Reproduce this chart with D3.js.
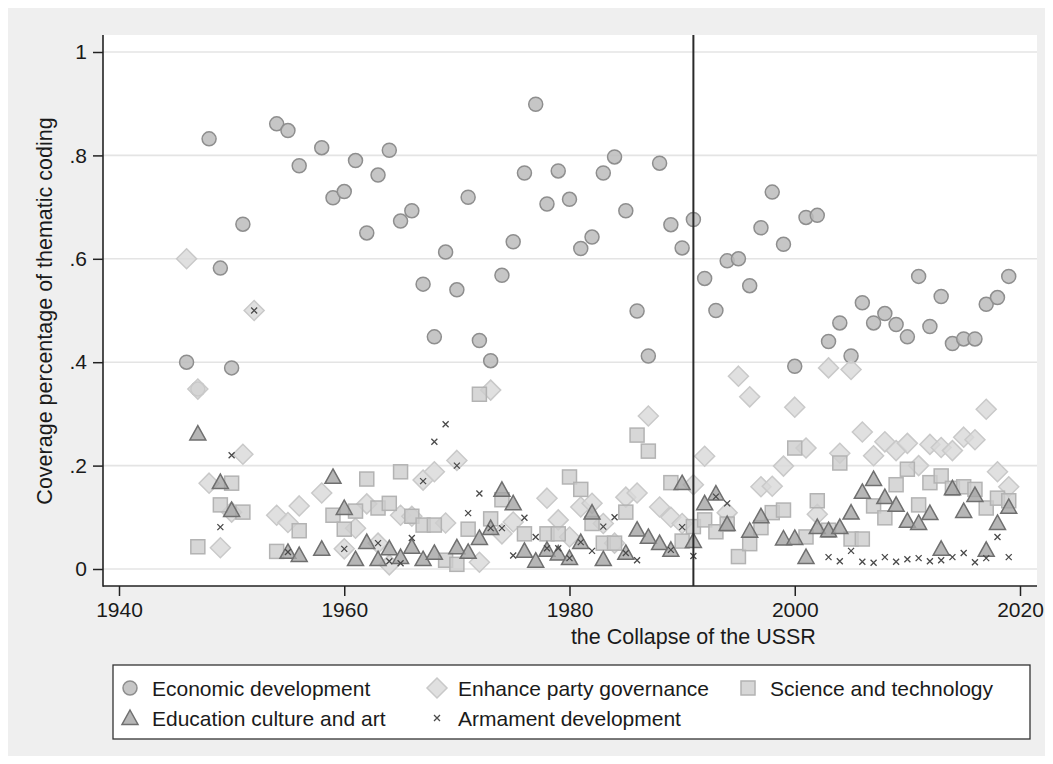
<!DOCTYPE html>
<html>
<head>
<meta charset="utf-8">
<script src="https://cdn.jsdelivr.net/npm/d3@7"></script>
<style>
  body { margin: 0; background: #fff; }
  text { font-family: "Liberation Sans", Arial, sans-serif; fill: #1a1a1a; }
</style>
</head>
<body>
<div id="chart"></div>
<script>
var years = [
  1946,1947,1948,1949,1950,1951,1952,1953,1954,1955,
  1956,1957,1958,1959,1960,1961,1962,1963,1964,1965,
  1966,1967,1968,1969,1970,1971,1972,1973,1974,1975,
  1976,1977,1978,1979,1980,1981,1982,1983,1984,1985,
  1986,1987,1988,1989,1990,1991,1992,1993,1994,1995,
  1996,1997,1998,1999,2000,2001,2002,2003,2004,2005,
  2006,2007,2008,2009,2010,2011,2012,2013,2014,2015,
  2016,2017,2018,2019];

var economic = [
  0.400,0.348,0.832,0.582,0.389,0.667,null,null,0.861,0.848,
  0.780,null,0.815,0.718,0.730,0.790,0.650,0.762,0.810,0.673,
  0.693,0.551,0.449,0.613,0.540,0.719,0.442,0.403,0.568,0.633,
  0.766,0.899,0.706,0.770,0.715,0.620,0.642,0.766,0.797,0.693,
  0.499,0.412,0.785,0.666,0.621,0.676,0.562,0.500,0.596,0.600,
  0.548,0.660,0.729,0.628,0.392,0.680,0.684,0.440,0.476,0.412,
  0.515,0.476,0.494,0.473,0.449,0.566,0.469,0.527,0.436,0.445,
  0.445,0.512,0.525,0.566];

var party = [
  0.600,0.348,0.166,0.041,0.110,0.222,0.500,null,0.104,0.090,
  0.122,null,0.147,null,0.039,0.079,0.126,0.050,0.008,0.104,
  0.102,0.172,0.188,0.089,0.210,null,0.013,0.346,0.068,0.091,
  null,null,0.137,0.095,0.062,0.120,0.127,0.088,0.050,0.139,
  0.147,0.296,0.120,0.100,0.088,0.163,0.218,null,0.109,0.373,
  0.333,0.159,0.160,0.199,0.313,0.234,0.106,0.389,0.224,0.386,
  0.265,0.219,0.246,0.229,0.243,0.200,0.241,0.235,0.229,0.255,
  0.250,0.309,0.188,0.159];

var science = [
  null,0.043,null,0.124,0.166,0.110,null,null,0.034,null,
  0.074,null,null,0.104,0.077,0.112,0.174,0.118,0.127,0.188,
  0.102,0.085,0.085,0.017,0.009,0.077,0.338,0.097,0.134,null,
  0.068,null,0.068,0.068,0.178,0.154,0.088,0.050,0.050,0.110,
  0.259,0.228,null,0.167,0.054,0.082,0.095,0.072,0.087,0.024,
  0.049,0.080,0.109,0.114,0.234,0.062,0.132,0.075,0.205,0.058,
  0.058,0.122,0.099,0.163,0.193,0.124,0.167,0.180,0.156,0.159,
  0.154,0.118,0.137,0.132];

var education = [
  null,0.262,null,0.168,0.114,null,null,null,null,0.033,
  0.027,null,0.039,0.178,0.118,0.019,0.052,0.019,0.040,0.023,
  0.043,0.019,0.031,null,0.042,0.033,0.060,0.079,0.153,0.127,
  0.035,0.016,0.037,0.030,0.021,0.052,0.109,0.019,null,0.031,
  0.076,0.062,0.050,0.037,0.166,0.054,0.127,0.146,0.087,null,
  0.074,0.102,null,0.059,0.060,0.023,0.081,0.075,0.081,0.109,
  0.149,0.174,0.139,0.124,0.093,0.089,0.108,0.039,0.156,0.112,
  0.143,0.037,0.089,0.120];

var armament = [
  null,null,null,0.081,0.220,null,0.500,null,null,0.033,
  null,null,null,null,0.039,null,null,0.050,0.015,0.011,
  0.060,0.170,0.246,0.280,0.200,0.108,0.146,0.079,0.079,0.026,
  0.099,0.062,0.040,0.040,0.021,0.052,0.035,0.082,0.100,0.031,
  0.017,null,null,0.037,0.081,0.025,null,0.140,0.127,null,
  null,null,null,null,null,null,null,0.023,0.015,0.035,
  0.014,0.012,0.023,0.014,0.019,0.021,0.015,0.017,0.023,0.031,
  0.013,0.021,0.062,0.023];

var xTicks = [1940, 1960, 1980, 2000, 2020];
var yTicks = [0, 0.2, 0.4, 0.6, 0.8, 1];
var collapseYear = 1991;

var width = 1053, height = 764;
var plotLeft = 103, plotRight = 1037, plotTop = 35, plotBottom = 586;

var x = d3.scaleLinear().domain([1940, 2020]).range([119, 1020]);
var y = d3.scaleLinear().domain([0, 1]).range([569, 52]);

// marker styles, in the order Stata draws them
var series = [
  {name: "Economic development",      values: economic,  shape: "circle"},
  {name: "Enhance party governance",  values: party,     shape: "diamond"},
  {name: "Science and technology",    values: science,   shape: "square"},
  {name: "Education culture and art", values: education, shape: "triangle"},
  {name: "Armament development",      values: armament,  shape: "cross"}
];

var style = {
  circle:   {fill: "#bcbcbc", stroke: "#8e8e8e"},
  diamond:  {fill: "#d8d8d8", stroke: "#c9c9c9"},
  square:   {fill: "#cdcdcd", stroke: "#b3b3b3"},
  triangle: {fill: "#a4a4a4", stroke: "#6f6f6f"},
  cross:    {fill: "none",    stroke: "#4a4a4a"}
};

function drawMarker(g, shape, cx, cy) {
  var s = style[shape];
  if (shape == "circle") {
    g.append("circle").attr("cx", cx).attr("cy", cy).attr("r", 7)
      .style("fill", s.fill).style("stroke", s.stroke).style("stroke-width", 1.5)
      .style("fill-opacity", 0.85);
  } else if (shape == "diamond") {
    var d = 10;
    g.append("path")
      .attr("d", "M" + cx + "," + (cy - d) + "L" + (cx + d) + "," + cy + "L" + cx + "," + (cy + d) + "L" + (cx - d) + "," + cy + "Z")
      .style("fill", s.fill).style("stroke", s.stroke).style("stroke-width", 1.5)
      .style("fill-opacity", 0.8);
  } else if (shape == "square") {
    var h = 7;
    g.append("rect").attr("x", cx - h).attr("y", cy - h).attr("width", 2 * h).attr("height", 2 * h)
      .style("fill", s.fill).style("stroke", s.stroke).style("stroke-width", 1.5)
      .style("fill-opacity", 0.8);
  } else if (shape == "triangle") {
    var t = 8;
    g.append("path")
      .attr("d", "M" + cx + "," + (cy - t) + "L" + (cx + t) + "," + (cy + t * 0.8) + "L" + (cx - t) + "," + (cy + t * 0.8) + "Z")
      .style("fill", s.fill).style("stroke", s.stroke).style("stroke-width", 1.5)
      .style("fill-opacity", 0.8);
  } else {
    var c = 3;
    g.append("path")
      .attr("d", "M" + (cx - c) + "," + (cy - c) + "L" + (cx + c) + "," + (cy + c) + "M" + (cx + c) + "," + (cy - c) + "L" + (cx - c) + "," + (cy + c))
      .style("fill", "none").style("stroke", s.stroke).style("stroke-width", 1.3);
  }
}

var svg = d3.select("#chart")
  .append("svg")
  .attr("width", width)
  .attr("height", height);

svg.append("rect").attr("width", width).attr("height", height).style("fill", "#ffffff");
svg.append("rect").attr("x", 8).attr("y", 8).attr("width", 1037).attr("height", 748).style("fill", "#efefef");
svg.append("rect")
  .attr("x", plotLeft).attr("y", plotTop)
  .attr("width", plotRight - plotLeft).attr("height", plotBottom - plotTop)
  .style("fill", "#ffffff");

// gridlines
svg.selectAll("line.grid")
  .data(yTicks)
  .enter()
  .append("line")
  .attr("class", "grid")
  .attr("x1", plotLeft).attr("x2", plotRight)
  .attr("y1", function(d) { return y(d); })
  .attr("y2", function(d) { return y(d); })
  .style("stroke", "#e4e4e4")
  .style("stroke-width", 1.6);

// axes
var yAxis = d3.axisLeft(y)
  .tickValues(yTicks)
  .tickSize(10)
  .tickPadding(6)
  .tickFormat(function(d) { return d == 0 ? "0" : d == 1 ? "1" : String(d).replace("0.", "."); });

var gy = svg.append("g").attr("transform", "translate(" + plotLeft + ",0)").call(yAxis);
gy.select(".domain").remove();

var xAxis = d3.axisBottom(x)
  .tickValues(xTicks)
  .tickSize(10)
  .tickPadding(6)
  .tickFormat(d3.format("d"));

var gx = svg.append("g").attr("transform", "translate(0," + plotBottom + ")").call(xAxis);
gx.select(".domain").remove();

svg.selectAll(".tick line").style("stroke", "#222").style("stroke-width", 1.5);
svg.selectAll(".tick text")
  .style("font-family", "'Liberation Sans', Arial, sans-serif")
  .style("font-size", "21px")
  .style("fill", "#1a1a1a");

svg.append("line")
  .attr("x1", plotLeft).attr("x2", plotLeft)
  .attr("y1", plotTop).attr("y2", plotBottom + 0.75)
  .style("stroke", "#222").style("stroke-width", 1.6);
svg.append("line")
  .attr("x1", plotLeft).attr("x2", plotRight)
  .attr("y1", plotBottom).attr("y2", plotBottom)
  .style("stroke", "#222").style("stroke-width", 1.6);

// points
series.forEach(function(s) {
  var g = svg.append("g");
  years.forEach(function(yr, i) {
    var v = s.values[i];
    if (v === null) return;
    drawMarker(g, s.shape, x(yr), y(v));
  });
});

// collapse of the USSR
svg.append("line")
  .attr("x1", x(collapseYear)).attr("x2", x(collapseYear))
  .attr("y1", plotTop).attr("y2", plotBottom)
  .style("stroke", "#2a2a2a").style("stroke-width", 2);

svg.append("text")
  .attr("x", x(collapseYear)).attr("y", 644)
  .attr("text-anchor", "middle")
  .style("font-size", "21.5px")
  .text("the Collapse of the USSR");

svg.append("text")
  .attr("transform", "translate(52,311) rotate(-90)")
  .attr("text-anchor", "middle")
  .style("font-size", "21.5px")
  .text("Coverage percentage of thematic coding");

// legend
svg.append("rect")
  .attr("x", 113).attr("y", 665).attr("width", 917).attr("height", 74)
  .style("fill", "#ffffff").style("stroke", "#333").style("stroke-width", 1.3);

var legendPos = [
  {mx: 130, tx: 152, ty: 688},
  {mx: 437, tx: 458, ty: 688},
  {mx: 748, tx: 770, ty: 688},
  {mx: 130, tx: 152, ty: 718},
  {mx: 437, tx: 458, ty: 718}
];

series.forEach(function(s, i) {
  var p = legendPos[i];
  var g = svg.append("g");
  drawMarker(g, s.shape, p.mx, p.ty);
  g.append("text")
    .attr("x", p.tx).attr("y", p.ty + 7.5)
    .style("font-size", "21px")
    .text(s.name);
});
</script>
</body>
</html>
